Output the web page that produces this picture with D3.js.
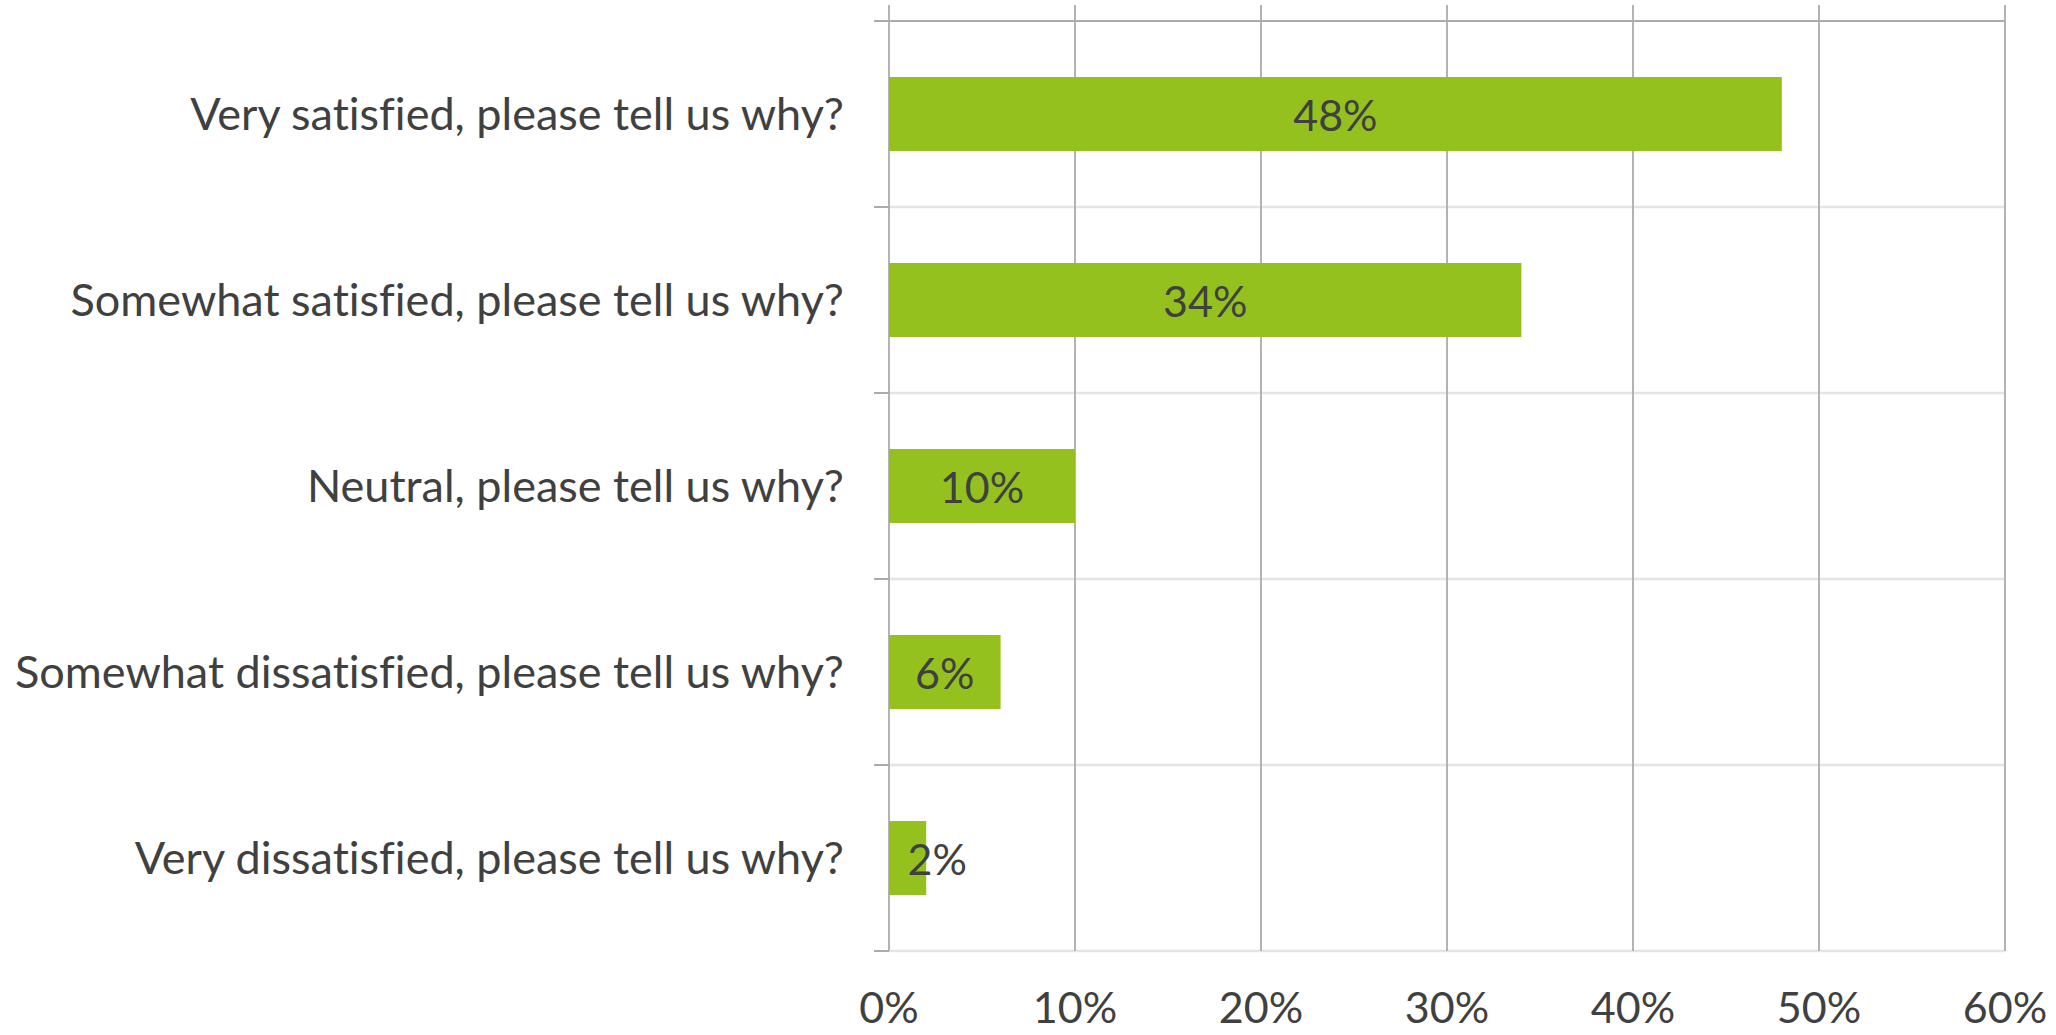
<!DOCTYPE html>
<html>
<head>
<meta charset="utf-8">
<script src="https://cdn.jsdelivr.net/npm/d3@7"></script>
<style>
  html, body { margin: 0; padding: 0; background: #fff; }
  svg { display: block; }
  text { font-family: Lato, "Open Sans", sans-serif; fill: #404040; font-variant-ligatures: none; }
</style>
</head>
<body>
<svg id="chart" width="2056" height="1035"></svg>
<script>
const categories = [
  "Very satisfied, please tell us why?",
  "Somewhat satisfied, please tell us why?",
  "Neutral, please tell us why?",
  "Somewhat dissatisfied, please tell us why?",
  "Very dissatisfied, please tell us why?"
];
const values = [0.48, 0.34, 0.10, 0.06, 0.02];
const tickValues = [0, 0.1, 0.2, 0.3, 0.4, 0.5, 0.6];

const svg = d3.select("#chart");
const plotLeft = 889, plotRight = 2005, plotTop = 21, plotBottom = 951;
const barColor = "#95C11F";

const x = d3.scaleLinear().domain([0, 0.6]).range([plotLeft, plotRight]);
const y = d3.scaleBand().domain(categories).range([plotTop, plotBottom]).paddingInner(0).paddingOuter(0);
const bh = 74;
const fs = 43;
const catFs = 45;

// horizontal band boundaries (light)
const bounds = categories.map(c => y(c) + y.bandwidth());
svg.append("g").selectAll("line").data(bounds).join("line")
  .attr("x1", plotLeft).attr("x2", plotRight)
  .attr("y1", d => d).attr("y2", d => d)
  .attr("stroke", "#e4e4e4").attr("stroke-width", 2.5);

// vertical gridlines
svg.append("g").selectAll("line").data(tickValues).join("line")
  .attr("x1", d => x(d)).attr("x2", d => x(d))
  .attr("y1", 5).attr("y2", plotBottom)
  .attr("stroke", "#b3b3b3").attr("stroke-width", 2);

// top axis line
svg.append("line")
  .attr("x1", plotLeft - 15).attr("x2", plotRight)
  .attr("y1", plotTop).attr("y2", plotTop)
  .attr("stroke", "#ababab").attr("stroke-width", 2);

// category tick marks
svg.append("g").selectAll("line").data(bounds).join("line")
  .attr("x1", plotLeft - 15).attr("x2", plotLeft)
  .attr("y1", d => d).attr("y2", d => d)
  .attr("stroke", "#ababab").attr("stroke-width", 2);

// bars
svg.append("g").selectAll("rect").data(values).join("rect")
  .attr("x", x(0))
  .attr("y", (d, i) => y(categories[i]) + (y.bandwidth() - bh) / 2)
  .attr("width", d => x(d) - x(0))
  .attr("height", bh)
  .attr("fill", barColor);

// bar labels
const fmt = d3.format(".0%");
svg.append("g").selectAll("text").data(values).join("text")
  .attr("x", d => (x(0) + x(d)) / 2)
  .attr("y", (d, i) => y(categories[i]) + y.bandwidth() / 2)
  .attr("dy", "0.40em")
  .attr("text-anchor", "middle")
  .attr("font-size", fs)
  .text(d => fmt(d))
  .each(function(d) {
    const w = this.getComputedTextLength();
    if (w > x(d) - x(0)) d3.select(this).attr("text-anchor", "start");
  });

// category labels
svg.append("g").selectAll("text").data(categories).join("text")
  .attr("x", 844)
  .attr("y", d => y(d) + y.bandwidth() / 2)
  .attr("dy", "0.36em")
  .attr("text-anchor", "end")
  .attr("font-size", catFs)
  .text(d => d);

// x tick labels
svg.append("g").selectAll("text").data(tickValues).join("text")
  .attr("x", d => x(d))
  .attr("y", 1023)
  .attr("text-anchor", "middle")
  .attr("font-size", fs)
  .text(d => fmt(d));
</script>
</body>
</html>
